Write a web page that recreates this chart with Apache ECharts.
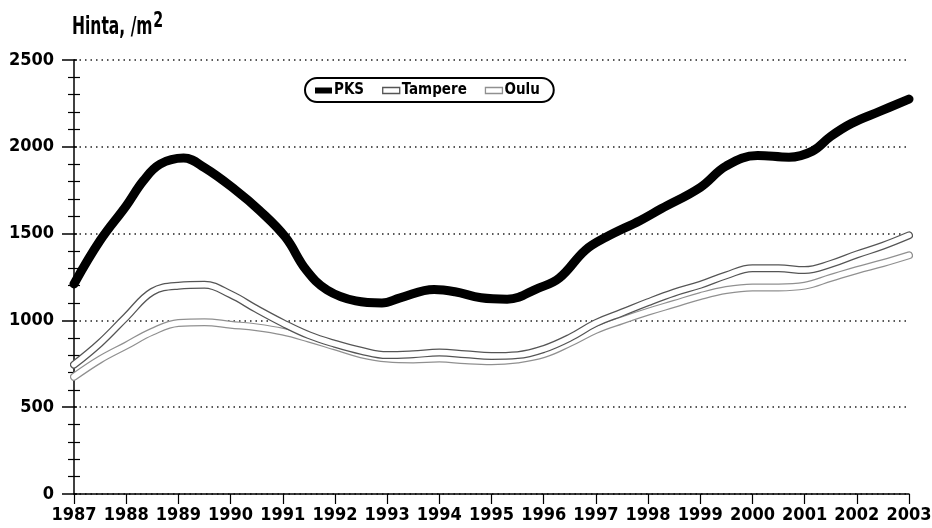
<!DOCTYPE html>
<html><head><meta charset="utf-8">
<script src="https://cdn.jsdelivr.net/npm/echarts@6/dist/echarts.min.js"></script>
<style>html,body{margin:0;padding:0;background:#fff}#c{width:932px;height:528px}</style>
</head><body><div id="c"></div>
<script>
const FONT = '"DejaVu Sans Condensed", "DejaVu Sans", sans-serif';
const xMin = 1987, xMax = 2003;
const yTickValues = [0, 500, 1000, 1500, 2000, 2500];

const pksYears  = [1987.0,1987.5,1988.0,1988.33,1988.65,1989.1,1989.5,1990.1,1990.55,1991.05,1991.45,1991.85,1992.4,1992.9,1993.25,1993.9,1994.3,1994.8,1995.3,1995.9,1996.3,1996.8,1997.2,1997.85,1998.25,1999.0,1999.5,2000.1,2000.7,2001.15,2001.5,2001.9,2002.45,2003.0];
const pksValues = [1210,1460,1660,1805,1900,1935,1880,1750,1635,1480,1290,1175,1112,1100,1130,1178,1165,1130,1122,1186,1244,1405,1480,1576,1643,1766,1890,1950,1940,1975,2060,2135,2205,2275];

const halfYears = [1987.0,1987.5,1988.0,1988.5,1989.0,1989.5,1990.0,1990.5,1991.0,1991.5,1992.0,1992.5,1993.0,1993.5,1994.0,1994.5,1995.0,1995.5,1996.0,1996.5,1997.0,1997.5,1998.0,1998.5,1999.0,1999.5,2000.0,2000.5,2001.0,2001.5,2002.0,2002.5,2003.0];
const tampereValues = [745,870,1020,1165,1200,1205,1150,1065,985,915,865,825,800,805,815,805,795,800,835,900,985,1045,1105,1160,1205,1260,1300,1300,1290,1325,1380,1430,1490];
const ouluValues    = [675,775,855,935,985,990,975,960,935,895,850,805,780,775,780,770,765,775,805,870,945,1000,1050,1095,1140,1175,1190,1190,1200,1245,1290,1330,1375];

const zip = (xs, ys) => xs.map((x, i) => [x, ys[i]]);
const pksData = zip(pksYears, pksValues);
const tampereData = zip(halfYears, tampereValues);
const ouluData = zip(halfYears, ouluValues);

const TAMPERE_COL = '#555', OULU_COL = '#909090';

function lineSeries(name, data, color, width, z, smooth) {
  return {
    name, type: 'line', data, smooth: smooth, symbol: 'none', z,
    lineStyle: { color, width, cap: 'round', join: 'round' },
    itemStyle: { color },
    emphasis: { disabled: true }, silent: true, animation: false
  };
}

const chart = echarts.init(document.getElementById('c'), null, { renderer: 'canvas' });
chart.setOption({
  animation: false,
  backgroundColor: '#fff',
  grid: { left: 74, right: 23, top: 60, bottom: 34, containLabel: false, outerBoundsMode: 'none' },
  legend: {
    left: 305, top: 78,
    padding: [5, 14, 4, 10],
    itemGap: 18, itemWidth: 17, itemHeight: 6,
    borderColor: '#000', borderWidth: 2, borderRadius: 13,
    textStyle: { fontFamily: FONT, fontSize: 15, fontWeight: 'bold', color: '#000', padding: [0, 0, 0, -3] },
    data: [
      { name: 'PKS', icon: 'rect', itemStyle: { color: '#000' } },
      { name: 'Tampere', icon: 'rect', itemStyle: { color: '#fff', borderColor: TAMPERE_COL, borderWidth: 1.3 } },
      { name: 'Oulu', icon: 'rect', itemStyle: { color: '#fff', borderColor: OULU_COL, borderWidth: 1.3 } }
    ],
    selectedMode: false
  },
  graphic: [
    { type: 'text', x: 72, y: 10, scaleX: 0.72, silent: true, style: {
      text: '{a|Hinta, /m}{b|2}',
      rich: {
        a: { fontFamily: FONT, fontSize: 24, fontWeight: 'bold', lineHeight: 30, verticalAlign: 'bottom', fill: '#000' },
        b: { fontFamily: FONT, fontSize: 22, fontWeight: 'bold', lineHeight: 22, verticalAlign: 'top', fill: '#000', padding: [0, 0, 0, 1] }
      }
    } }
  ],
  xAxis: {
    type: 'value', min: xMin, max: xMax, interval: 1,
    axisLine: { show: true, lineStyle: { color: '#000', width: 1.5 } },
    axisTick: { show: true, length: 10, lineStyle: { color: '#000', width: 1.2 } },
    axisLabel: { show: true, margin: 12, showMinLabel: true, showMaxLabel: true, hideOverlap: false,
      fontFamily: FONT, fontSize: 18, fontWeight: 'bold', color: '#000', formatter: v => String(v) },
    splitLine: { show: false }
  },
  yAxis: [{
    type: 'value', min: 0, max: 2500, interval: 500, position: 'left',
    axisLine: { show: true, lineStyle: { color: '#000', width: 1.5 } },
    axisTick: { show: true, length: 12, lineStyle: { color: '#000', width: 1.5 } },
    minorTick: { show: true, splitNumber: 5, length: 6, lineStyle: { color: '#000', width: 1.2 } },
    axisLabel: { show: true, margin: 20, showMinLabel: true, showMaxLabel: true, fontFamily: FONT, fontSize: 18, fontWeight: 'bold', color: '#000',
      formatter: v => yTickValues.includes(v) ? String(v) : '' },
    splitLine: { show: true, lineStyle: { color: '#222', width: 1.5, type: [1.5, 4] } }
  }, {
    type: 'value', min: 0, max: 2500, interval: 500, position: 'left', offset: 0,
    axisLine: { show: false },
    axisTick: { show: true, inside: true, length: 3, lineStyle: { color: '#000', width: 1.5 } },
    minorTick: { show: true, splitNumber: 5, length: 6, lineStyle: { color: '#000', width: 1.2 } },
    axisLabel: { show: false },
    splitLine: { show: false }
  }],
  series: [
    lineSeries('Oulu', ouluData, OULU_COL, 8, 2, 0.4),
    lineSeries('Oulu_inner', ouluData, '#fff', 5.5, 3, 0.4),
    lineSeries('Tampere', tampereData, TAMPERE_COL, 8, 4, 0.4),
    lineSeries('Tampere_inner', tampereData, '#fff', 5.5, 5, 0.4),
    lineSeries('PKS', pksData, '#000', 9, 6, 0.4)
  ]
});
</script>
</body></html>
